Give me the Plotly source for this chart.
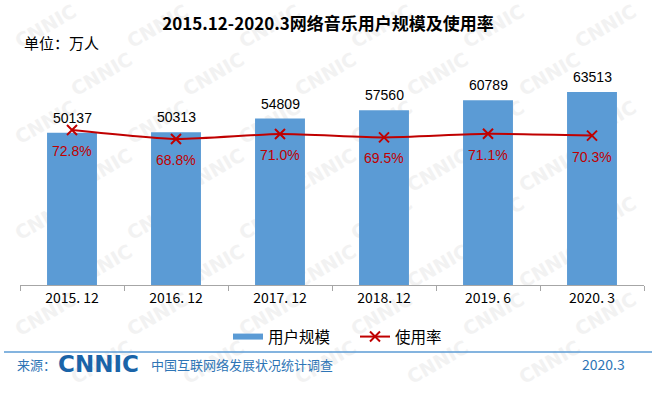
import plotly.graph_objects as go

# ---------------- data ----------------
categories = ["2015. 12", "2016. 12", "2017. 12", "2018. 12", "2019. 6", "2020. 3"]
users = [50137, 50313, 54809, 57560, 60789, 63513]
rates = [72.8, 68.8, 71.0, 69.5, 71.1, 70.3]
rate_labels = [f"{r:.1f}%" for r in rates]

title_text = "2015.12-2020.3网络音乐用户规模及使用率"
unit_text = "单位：万人"
bar_name = "用户规模"
line_name = "使用率"

# ---------------- layout helpers ----------------
W, H = 656, 393
L, R, T, B = 20, 12, 42, 108
pw, ph = W - L - R, H - T - B


def px(xp):
    return (xp - L) / pw


def py(yp):
    return (H - B - yp) / ph


BLUE = "#5B9BD5"
RED = "#C00000"
CJK = "Noto Sans CJK SC"
LAT = "Liberation Sans"

fig = go.Figure()

fig.add_trace(go.Bar(
    x=categories, y=users, width=0.48,
    marker=dict(color=BLUE, line=dict(width=0)),
    showlegend=False, name=bar_name,
))
# legend proxy for bars (wide flat patch)
fig.add_trace(go.Scatter(
    x=[None], y=[None], mode="lines", name=bar_name,
    line=dict(color=BLUE, width=6),
))
fig.add_trace(go.Scatter(
    x=categories, y=rates, yaxis="y2", mode="lines+markers", name=line_name,
    line=dict(color=RED, width=2, shape="spline", smoothing=0.6),
    marker=dict(symbol="x-thin", size=10, color=RED, line=dict(color=RED, width=2)),
))

annotations = []
for c, v in zip(categories, users):
    annotations.append(dict(
        x=c, y=v, xref="x", yref="y", text=str(v), showarrow=False,
        yanchor="middle", yshift=15, font=dict(family=LAT, size=14, color="#000000"),
    ))
for c, r, t in zip(categories, rates, rate_labels):
    annotations.append(dict(
        x=c, y=r, xref="x", yref="y2", text=t, showarrow=False,
        yanchor="middle", yshift=-21, font=dict(family=LAT, size=14, color=RED),
    ))

annotations += [
    dict(x=px(22), y=py(42), xref="paper", yref="paper", text=unit_text, showarrow=False,
         xanchor="left", yanchor="middle", font=dict(family=CJK, size=15, color="#000000")),
    dict(x=px(15), y=py(364), xref="paper", yref="paper", text="来源：", showarrow=False,
         xanchor="left", yanchor="middle", font=dict(family=CJK, size=13, color="#2E75B6")),
    dict(x=px(56), y=py(364), xref="paper", yref="paper", text="<b>CNNIC</b>", showarrow=False,
         xanchor="left", yanchor="middle", font=dict(family="DejaVu Sans", size=23, color="#1A64A8")),
    dict(x=px(149), y=py(364), xref="paper", yref="paper", text="中国互联网络发展状况统计调查",
         showarrow=False, xanchor="left", yanchor="middle",
         font=dict(family=CJK, size=13, color="#2E75B6")),
    dict(x=px(627), y=py(364), xref="paper", yref="paper", text="2020.3", showarrow=False,
         xanchor="right", yanchor="middle", font=dict(family=CJK, size=14, color="#2E75B6")),
]

shapes = [
    dict(type="line", xref="paper", yref="paper", x0=px(4), x1=px(652), y0=py(352), y1=py(352),
         line=dict(color="#5B9BD5", width=1.5)),
]

# faint watermark grid (kept fully inside the figure)
row = 0
for yy in range(25, 380, 48):
    off = 56 if row % 2 else 0
    for xx in range(45 + off, 620, 112):
        shapes.append(dict(
            type="rect", xref="paper", yref="paper", layer="below",
            x0=px(xx - 1), x1=px(xx + 1), y0=py(yy + 1), y1=py(yy - 1),
            line=dict(width=0), fillcolor="rgba(0,0,0,0)",
            label=dict(text="CNNIC", textangle=-30, textposition="middle center",
                       font=dict(family="DejaVu Sans", size=19, color="#F2F2F2", weight="bold")),
        ))
    row += 1

fig.update_layout(
    width=W, height=H,
    margin=dict(l=L, r=R, t=T, b=B, pad=0),
    paper_bgcolor="white", plot_bgcolor="rgba(0,0,0,0)",
    title=dict(text=f"<b>{title_text}</b>", x=0.5, xanchor="center", y=1 - 24 / H, yanchor="middle",
               font=dict(family=CJK, size=17, color="#000000")),
    xaxis=dict(type="category", range=[-0.5, 5.5], showline=True, linecolor="#A6A6A6", linewidth=1,
               ticks="outside", ticklen=5, tickcolor="#A6A6A6", tickson="boundaries",
               showgrid=False, zeroline=False,
               tickfont=dict(family=CJK, size=14, color="#000000")),
    yaxis=dict(range=[0, 80000], visible=False, showgrid=False, zeroline=False),
    yaxis2=dict(range=[3.9, 111.9], overlaying="y", visible=False, showgrid=False, zeroline=False),
    legend=dict(orientation="h", x=px(355), xanchor="center", y=py(337), yanchor="middle",
                font=dict(family=CJK, size=15.5, color="#000000"), itemwidth=30,
                entrywidth=82, entrywidthmode="pixels",
                bgcolor="rgba(0,0,0,0)"),
    annotations=annotations, shapes=shapes,
    showlegend=True,
)

fig.write_html("out.html", config={"displayModeBar": False},
               post_script="document.body.style.margin='0px';")
